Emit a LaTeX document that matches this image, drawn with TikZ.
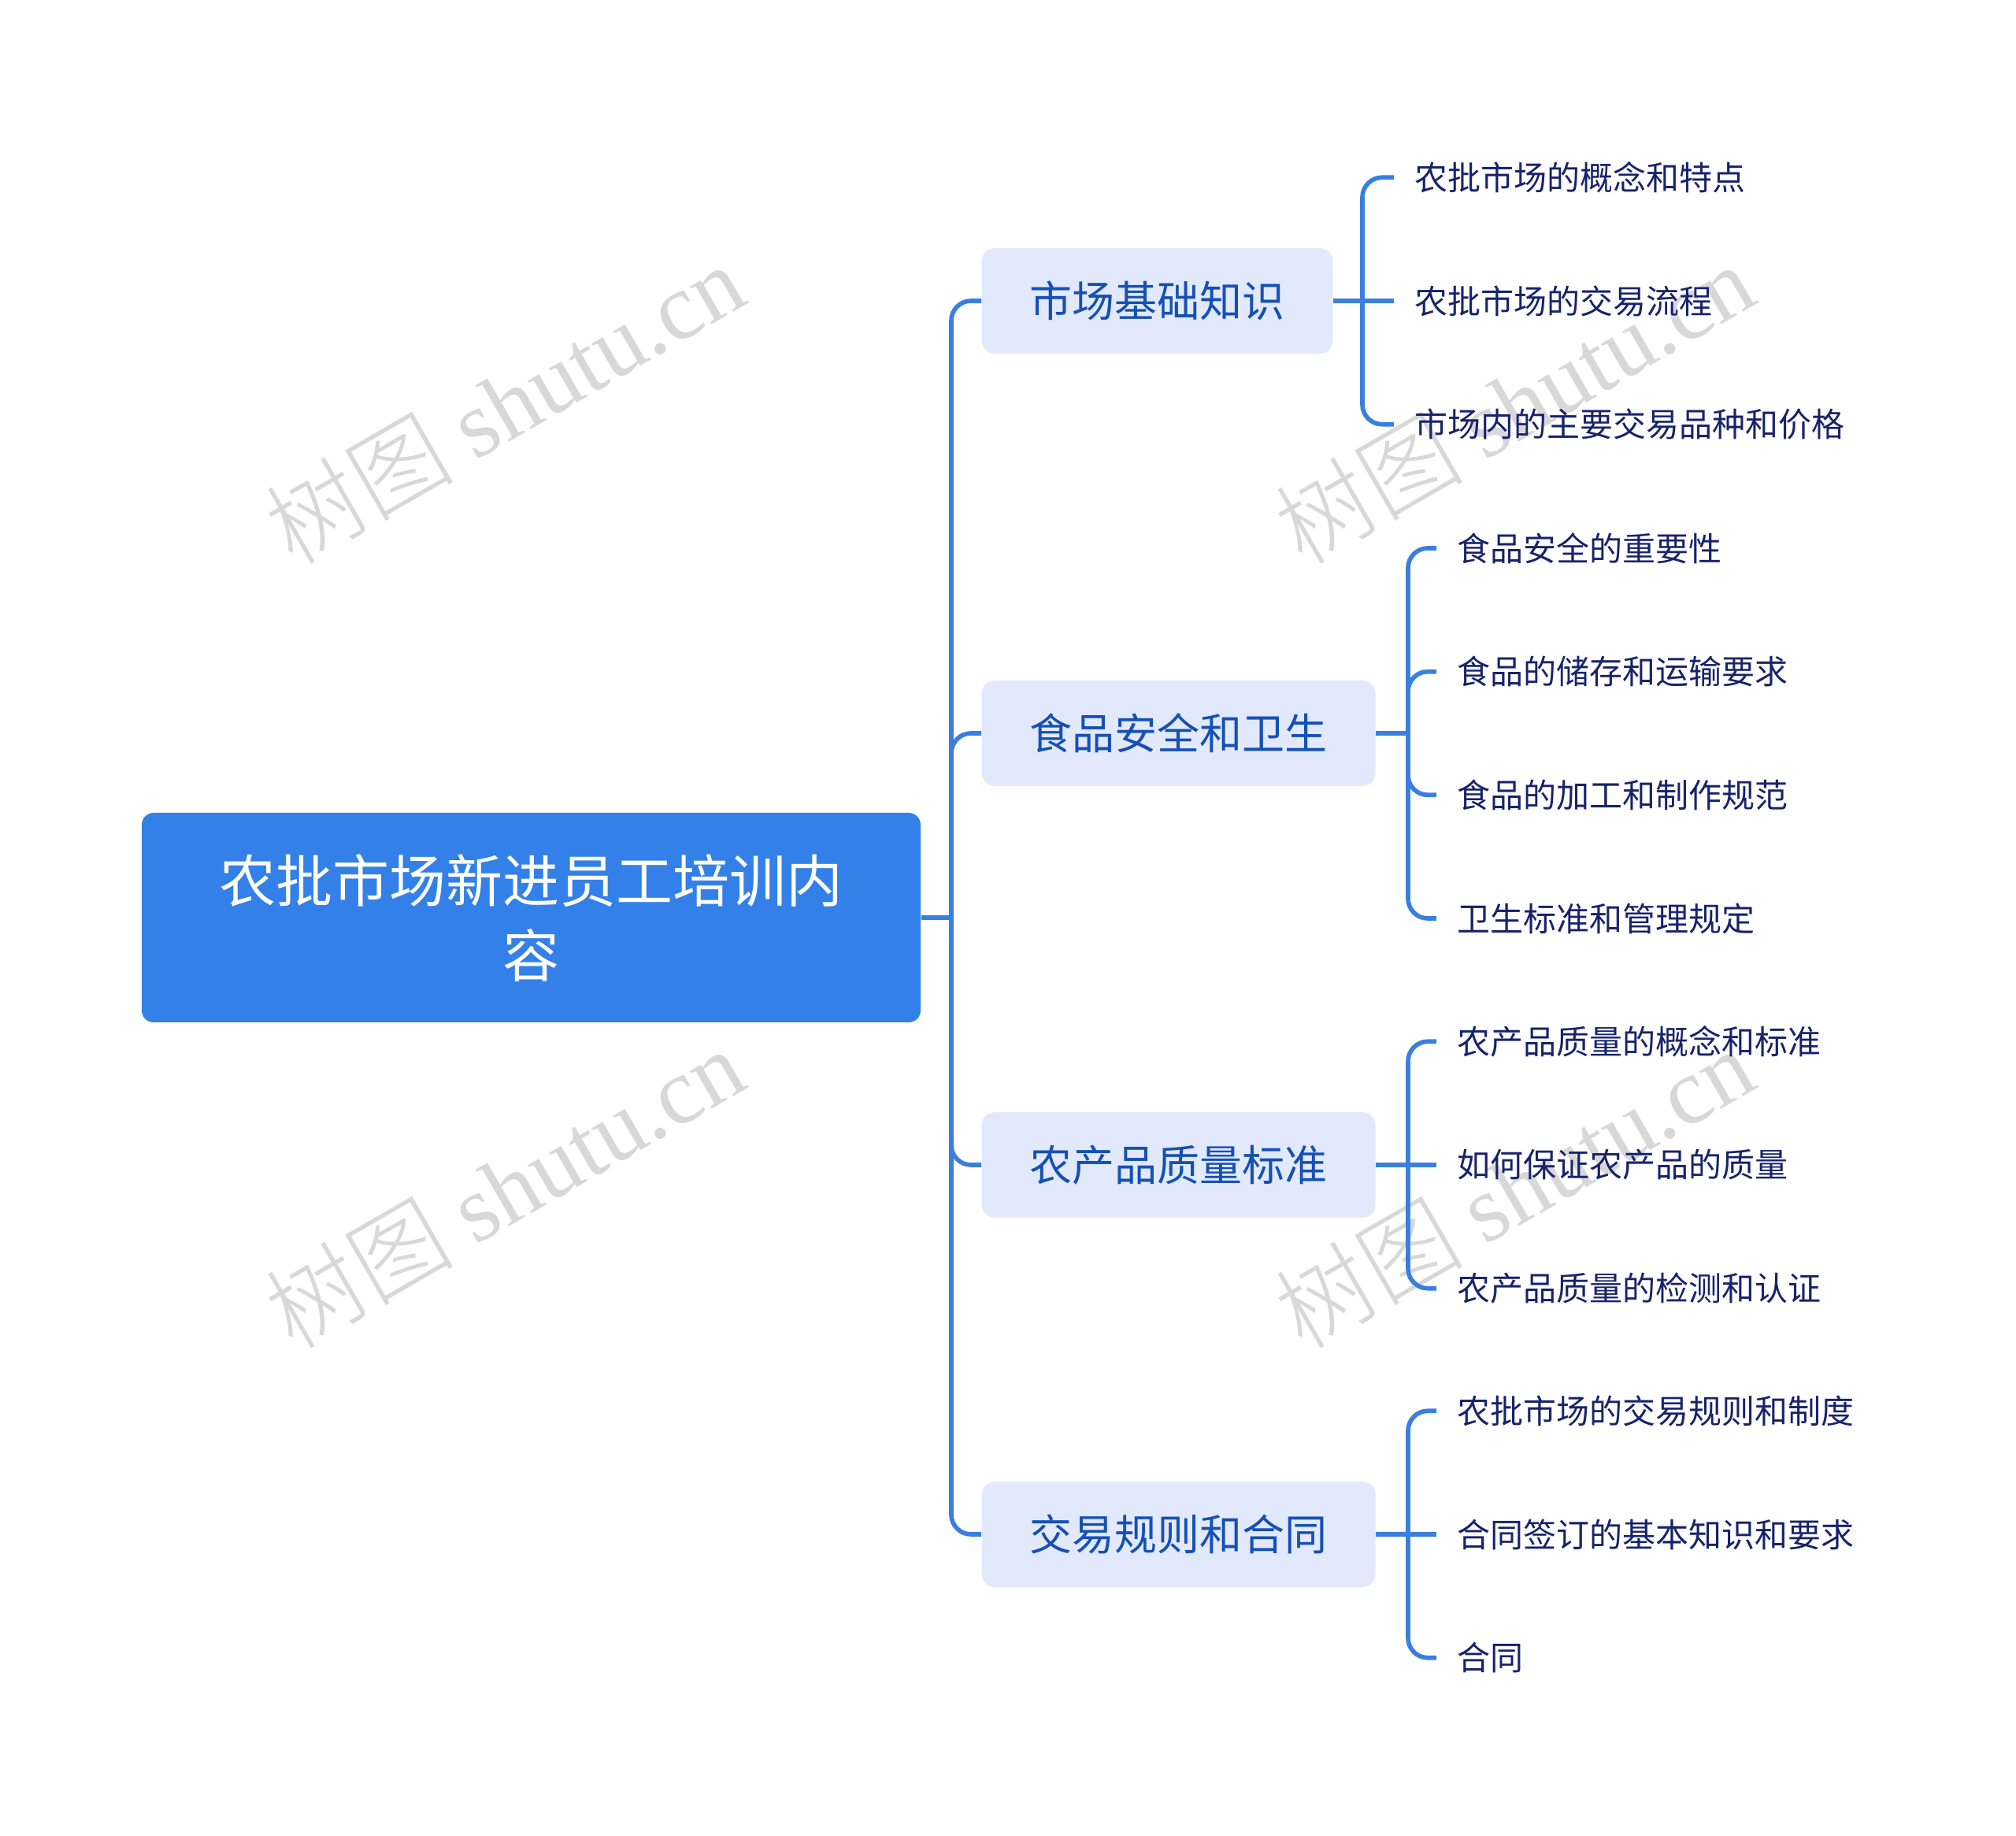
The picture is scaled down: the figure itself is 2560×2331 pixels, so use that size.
\documentclass[tikz,border=0pt]{standalone}
\usepackage{fontspec}
\setmainfont{Noto Sans CJK SC}
\newfontfamily\wmlatin{Liberation Serif}
\newfontfamily\cjkfont{Noto Sans CJK SC Light}
\definecolor{rootblue}{HTML}{3381E8}
\definecolor{lonefill}{HTML}{E2E9FC}
\definecolor{lonetext}{HTML}{1550B5}
\definecolor{leaftext}{HTML}{17236B}
\definecolor{linec}{HTML}{3A7FE0}
\definecolor{wmgray}{HTML}{D8D8D8}
\tikzset{
  rootbox/.style={fill=rootblue, rounded corners=4.5pt, minimum width=296.7pt, minimum height=79.8pt,
    text=white, font=\fontsize{21.6}{28.5}\selectfont, align=center, inner sep=0pt},
  lonebox/.style={fill=lonefill, rounded corners=5pt, text=lonetext, font=\fontsize{16.2}{20}\selectfont,
    inner xsep=18.3pt, inner ysep=0pt, minimum height=40.2pt, anchor=west},
  leaf/.style={anchor=west, text=leaftext, font=\fontsize{12.6}{15}\selectfont, inner xsep=7.8pt, inner ysep=2pt},
  conn/.style={draw=linec, line width=1.7pt},
  rc/.style={rounded corners=7.5pt},
  wmark/.style={text=wmgray, rotate=30, font=\fontsize{36}{40}\selectfont, inner sep=0pt}
}
\begin{document}
\begin{tikzpicture}[x=0.3pt,y=-0.3pt]
\useasboundingbox (0,0) rectangle (2560,2331);
% watermarks
\node[wmark] (w1) at (640,512) {{\cjkfont 树图} {\wmlatin shutu.cn}};
\node[wmark] (w2) at (1922,512) {{\cjkfont 树图} {\wmlatin shutu.cn}};
\node[wmark] (w3) at (640,1508) {{\cjkfont 树图} {\wmlatin shutu.cn}};
\node[wmark] (w4) at (1922,1508) {{\cjkfont 树图} {\wmlatin shutu.cn}};
% root
\node[rootbox] (root) at (674.5,1165) {农批市场新进员工培训内\\容};
% level 1
\node[lonebox] (b1) at (1246,382) {市场基础知识};
\node[lonebox] (b2) at (1246,931) {食品安全和卫生};
\node[lonebox] (b3) at (1246,1479) {农产品质量标准};
\node[lonebox] (b4) at (1246,1948) {交易规则和合同};
% leaves
\node[leaf] (l11) at (1770,225.3) {农批市场的概念和特点};
\node[leaf] (l12) at (1770,382) {农批市场的交易流程};
\node[leaf] (l13) at (1770,538.7) {市场内的主要交易品种和价格};
\node[leaf] (l21) at (1824,696) {食品安全的重要性};
\node[leaf] (l22) at (1824,852.7) {食品的储存和运输要求};
\node[leaf] (l23) at (1824,1009.3) {食品的加工和制作规范};
\node[leaf] (l24) at (1824,1166) {卫生标准和管理规定};
\node[leaf] (l31) at (1824,1322.3) {农产品质量的概念和标准};
\node[leaf] (l32) at (1824,1479) {如何保证农产品的质量};
\node[leaf] (l33) at (1824,1635.7) {农产品质量的检测和认证};
\node[leaf] (l41) at (1824,1791.3) {农批市场的交易规则和制度};
\node[leaf] (l42) at (1824,1948) {合同签订的基本知识和要求};
\node[leaf] (l43) at (1824,2104.7) {合同};
% trunk
\coordinate (t0) at (1208,1165);
\draw[conn] (root.east) -- (t0);
\foreach \b in {b1,b2,b3,b4} {\draw[conn,rc] (t0) |- (\b.west);}
% group 1
\coordinate (j1) at (1730,382);
\draw[conn] (b1.east) -- (j1);
\draw[conn,rc] (j1) |- (l11.west);
\draw[conn] (j1) -- (l12.west);
\draw[conn,rc] (j1) |- (l13.west);
% group 2
\coordinate (j2) at (1788,931);
\draw[conn] (b2.east) -- (j2);
\foreach \l in {l21,l22,l23,l24} {\draw[conn,rc] (j2) |- (\l.west);}
% group 3
\coordinate (j3) at (1788,1479);
\draw[conn] (b3.east) -- (j3);
\draw[conn,rc] (j3) |- (l31.west);
\draw[conn] (j3) -- (l32.west);
\draw[conn,rc] (j3) |- (l33.west);
% group 4
\coordinate (j4) at (1788,1948);
\draw[conn] (b4.east) -- (j4);
\draw[conn,rc] (j4) |- (l41.west);
\draw[conn] (j4) -- (l42.west);
\draw[conn,rc] (j4) |- (l43.west);
\end{tikzpicture}
\end{document}
